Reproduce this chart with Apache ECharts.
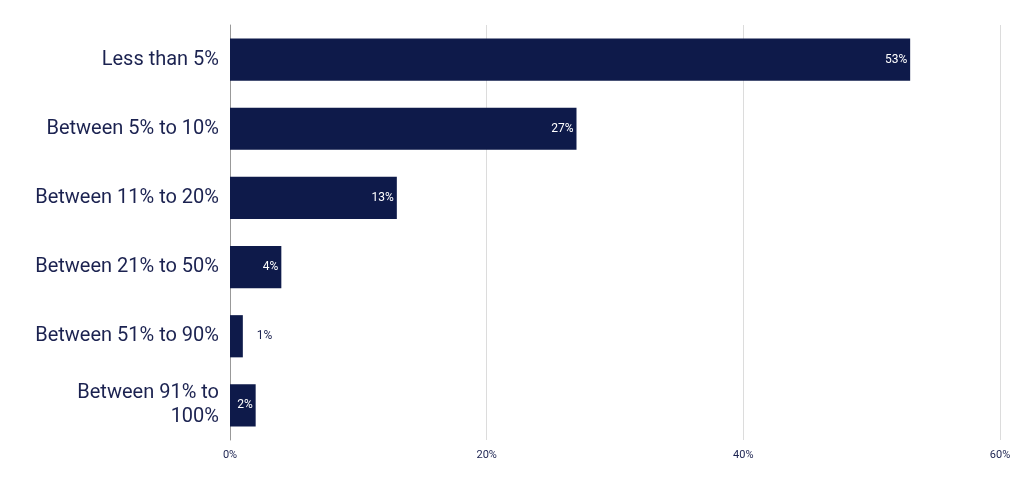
<!DOCTYPE html>
<html><head><meta charset="utf-8">
<script src="https://cdn.jsdelivr.net/npm/echarts@6/dist/echarts.min.js"></script>
<style>html,body{margin:0;background:#fff}#c{width:1024px;height:483px}</style>
</head><body><div id="c"></div>
<script>
const categories = ["Less than 5%","Between 5% to 10%","Between 11% to 20%","Between 21% to 50%","Between 51% to 90%","Between 91% to\n100%"];
const values = [53,27,13,4,1,2];
const xTicks = [0,20,40,60];
const chart = echarts.init(document.getElementById('c'));
chart.setOption({
  animation:false,
  grid:{left:230,right:24,top:25,bottom:43},
  xAxis:{type:'value',min:0,max:60,interval:20,
    axisLabel:{formatter:v=>v+'%',color:'#1b2250',fontSize:11,fontFamily:'Roboto',margin:10},
    splitLine:{lineStyle:{color:'#dcdcdc'}},axisLine:{show:false},axisTick:{show:false}},
  yAxis:{type:'category',inverse:true,data:categories,
    axisLabel:{color:'#1b2250',fontSize:20,fontFamily:'Roboto',margin:11,lineHeight:24},
    axisLine:{lineStyle:{color:'#999'}},axisTick:{show:false}},
  series:[{type:'bar',data:values.map(v=>({value:v,label:v<2?{position:'right',color:'#1b2250',distance:14}:{}})),
    barWidth:'61%',itemStyle:{color:'#0e1a4a'},
    label:{show:true,position:'insideRight',formatter:'{c}%',color:'#fff',fontSize:12,fontFamily:'Roboto',distance:3}}]
});
</script></body></html>
